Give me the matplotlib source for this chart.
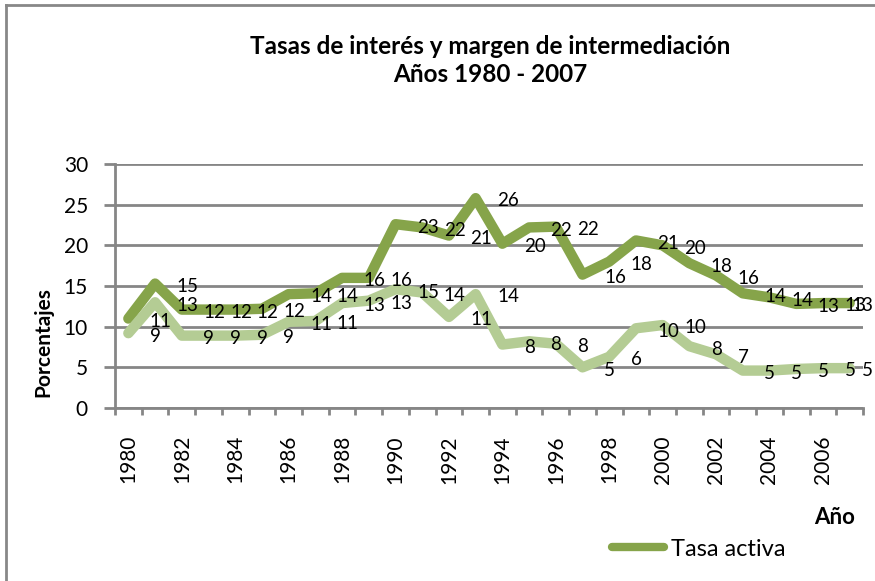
import numpy as np
import matplotlib
matplotlib.use("Agg")
import matplotlib.pyplot as plt
from matplotlib.lines import Line2D

plt.rcParams['font.family'] = ['Lato', 'DejaVu Sans']

# datos
years = list(range(1980, 2008))
tasa_activa = [11.0, 15.3, 12.1, 12.1, 12.1, 12.2, 14.0, 14.1, 16.0, 16.0,
               22.6, 22.2, 21.2, 25.8, 20.2, 22.2, 22.3, 16.4, 18.0, 20.6,
               20.0, 17.8, 16.3, 14.1, 13.6, 12.8, 12.9, 12.9]
tasa_pasiva = [9.2, 13.0, 8.9, 8.9, 8.9, 9.0, 10.6, 10.7, 12.9, 13.2,
               14.6, 14.2, 11.2, 14.0, 7.8, 8.2, 7.9, 5.0, 6.3, 9.8,
               10.2, 7.6, 6.6, 4.6, 4.6, 4.8, 4.9, 4.9]
yticks = [0, 5, 10, 15, 20, 25, 30]

W, H = 875, 581
gray = '#868686'
dark = '#86A44A'
light = '#B4CC94'

fig = plt.figure(figsize=(W / 100, H / 100), dpi=100)
ax = fig.add_axes([115 / W, 1 - 408 / H, (863 - 115) / W, (408 - 164) / H])

x = np.arange(len(years))
l1, = ax.plot(x, tasa_activa, color=dark, lw=7.5, solid_joinstyle='round',
              solid_capstyle='round', label='Tasa activa', zorder=3)
l2, = ax.plot(x, tasa_pasiva, color=light, lw=7.5, solid_joinstyle='round',
              solid_capstyle='round', label='Tasa pasiva', zorder=4)

# etiquetas de datos (a la derecha del punto)
last = len(years) - 1
for serie in (tasa_activa, tasa_pasiva):
    for i, v in enumerate(serie):
        txt = f"{v:.0f}"
        if i == last:
            ax.annotate(txt, xy=(0.998, v), xycoords=(fig.transFigure, ax.transData),
                        xytext=(0, -6), textcoords='offset points',
                        ha='right', va='baseline', fontsize=13.5, zorder=6)
        else:
            ax.annotate(txt, xy=(i, v), xytext=(15.5, -6), textcoords='offset points',
                        ha='left', va='baseline', fontsize=13.5, zorder=6,
                        annotation_clip=False)

ax.set_xlim(-0.5, len(years) - 0.5)
ax.set_ylim(0, 30)
ax.set_yticks(yticks)
ax.set_xticks(x[::2])
ax.set_xticklabels([str(y) for y in years[::2]], rotation=90)
ax.set_xticks(np.arange(-0.5, len(years), 1), minor=True)

ax.tick_params(axis='y', length=8, width=2, color=gray, pad=11.5, labelsize=15)
ax.tick_params(axis='x', which='major', length=0, pad=19.5, labelsize=15)
ax.tick_params(axis='x', which='minor', length=5, width=2, color=gray)

for s in ('top', 'right'):
    ax.spines[s].set_visible(False)
for s in ('left', 'bottom'):
    ax.spines[s].set_color(gray)
    ax.spines[s].set_linewidth(2)
ax.yaxis.grid(True, color=gray, lw=2)
ax.set_axisbelow(True)

# textos
fig.text(490 / W, 1 - 47 / H, 'Tasas de interés y margen de intermediación',
         ha='center', va='center', fontsize=17.5, fontweight='bold')
fig.text(490 / W, 1 - 75 / H, 'Años 1980 - 2007',
         ha='center', va='center', fontsize=17.5, fontweight='bold')
fig.text(43 / W, 1 - 342 / H, 'Porcentajes', rotation=90,
         ha='center', va='center', fontsize=15, fontweight='bold')
fig.text(835 / W, 1 - 517 / H, 'Año', ha='center', va='center',
         fontsize=16, fontweight='bold')

leg = fig.legend(handles=[l1], loc='center left', bbox_to_anchor=(591 / W, 1 - 549 / H),
                 frameon=False, fontsize=17, handlelength=2.2, handletextpad=0.28)
leg.get_lines()[0].set_linewidth(6)

# marco del gráfico
fig.add_artist(Line2D([6.3 / W, 6.3 / W], [0, 1 - 5.3 / H], color='#888888', lw=2))
fig.add_artist(Line2D([6.3 / W, 1], [1 - 5.3 / H, 1 - 5.3 / H], color='#888888', lw=2))

plt.savefig("out.png", dpi=100)
